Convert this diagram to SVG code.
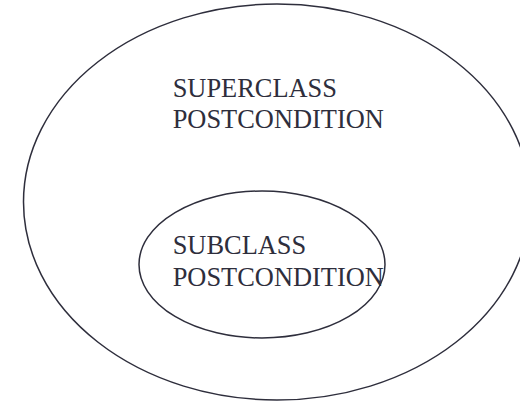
<svg xmlns="http://www.w3.org/2000/svg" width="520" height="403" viewBox="0 0 520 403">
<style>
.sh{fill:none;stroke:#2e2e3c;stroke-width:1.5}
.t{font-family:"Liberation Serif","Times New Roman",serif;font-size:26.4px;fill:#2e2e3c}
</style>
<rect width="520" height="403" fill="#fff"/>
<g id="superclass">
<ellipse class="sh" cx="277" cy="202" rx="253.5" ry="198"/>
<text class="t" x="172.7" y="97.3">SUPERCLASS</text>
<text class="t" x="172.7" y="128.3">POSTCONDITION</text>
</g>
<g id="subclass">
<ellipse class="sh" cx="262" cy="264.5" rx="123" ry="73.5"/>
<text class="t" x="172.7" y="254.3">SUBCLASS</text>
<text class="t" x="172.7" y="286">POSTCONDITION</text>
</g>
<g id="connectors"/>
</svg>
